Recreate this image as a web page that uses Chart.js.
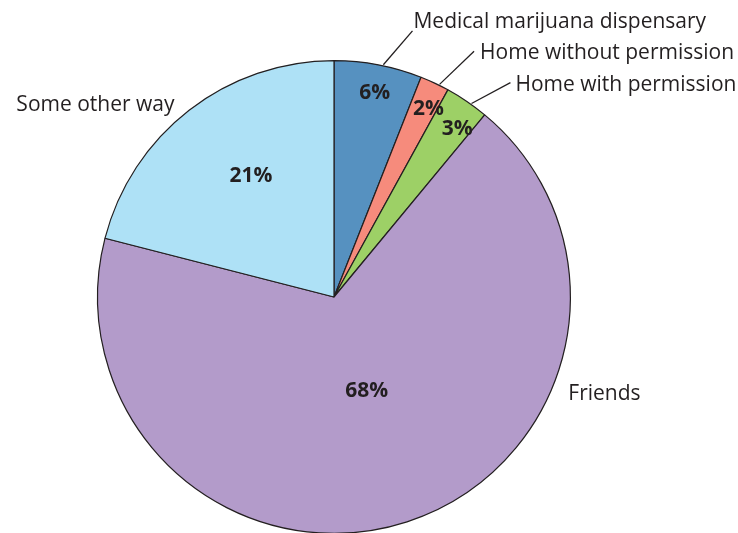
<!DOCTYPE html>
<html>
<head>
<meta charset="utf-8">
<script src="https://cdn.jsdelivr.net/npm/chart.js@4.4.1/dist/chart.umd.min.js"></script>
<style>
  html, body { margin: 0; padding: 0; background: #fff; overflow: hidden; }
  #wrap { position: relative; width: 738px; height: 540px; }
</style>
</head>
<body>
<div id="wrap"><canvas id="pie"></canvas></div>
<script>
const sources = [
  "Medical marijuana dispensary",
  "Home without permission",
  "Home with permission",
  "Friends",
  "Some other way"
];
const shares = [6, 2, 3, 68, 21];
const sliceColors = ["#5691c0", "#f68b7c", "#9dd066", "#b39bca", "#aee1f6"];

// where each slice's text sits: pct at a fraction of the radius,
// name offset from the outer edge at the slice middle
const pctRadius = [0.88, 0.89, 0.88, 0.42, 0.62];
const pctTurn = [0.5, 1.5, 2.1, -1.3, 3.3]; // degrees nudged clockwise
const nameOffsets = [
  { dx: 34, dy: -33, align: "left", leader: true, gap: 1, ty: -3 },
  { dx: 39, dy: -31, align: "left", leader: true, gap: 6, ty: 8 },
  { dx: 43, dy: -18, align: "left", leader: true, gap: 5, ty: 8 },
  { dx: 161, dy: -123, align: "left", leader: false, gap: 0, ty: 0 },
  { dx: -14, dy: 2, align: "right", leader: false, gap: 0, ty: 0 }
];

const textColor = "#231f20";
const fontFamily = "'Open Sans', 'Noto Sans', sans-serif";

const sliceLabels = {
  id: "sliceLabels",
  afterDraw(chart) {
    const ctx = chart.ctx;
    const arcs = chart.getDatasetMeta(0).data;
    ctx.save();
    arcs.forEach((arc, i) => {
      const { x, y, startAngle, endAngle, outerRadius } = arc.getProps(
        ["x", "y", "startAngle", "endAngle", "outerRadius"], true);
      const mid = (startAngle + endAngle) / 2;

      // percentage inside the slice
      const a = mid + pctTurn[i] * Math.PI / 180;
      const pr = outerRadius * pctRadius[i];
      ctx.font = "bold 21px " + fontFamily;
      ctx.fillStyle = textColor;
      ctx.textAlign = "center";
      ctx.textBaseline = "middle";
      ctx.fillText(shares[i] + "%", x + Math.cos(a) * pr, y + Math.sin(a) * pr);

      // source name outside, with a leader for the thin slices
      const o = nameOffsets[i];
      const ex = x + Math.cos(mid) * (outerRadius + 1);
      const ey = y + Math.sin(mid) * (outerRadius + 1);
      const tx = ex + o.dx, ty = ey + o.dy;
      if (o.leader) {
        const la = mid + 1.2 * Math.PI / 180;
        ctx.beginPath();
        ctx.moveTo(x + Math.cos(la) * (outerRadius + 1), y + Math.sin(la) * (outerRadius + 1));
        ctx.lineTo(tx, ty);
        ctx.strokeStyle = textColor;
        ctx.lineWidth = 1.3;
        ctx.stroke();
      }
      ctx.font = "21px " + fontFamily;
      ctx.textAlign = o.align;
      ctx.textBaseline = "alphabetic";
      ctx.fillText(sources[i], tx + (o.align === "left" ? o.gap : -o.gap), ty + o.ty);
    });
    ctx.restore();
  }
};

new Chart(document.getElementById("pie"), {
  type: "pie",
  data: {
    labels: sources,
    datasets: [{
      data: shares,
      backgroundColor: sliceColors,
      borderColor: textColor,
      borderWidth: 1.2
    }]
  },
  options: {
    responsive: true,
    maintainAspectRatio: false,
    animation: false,
    events: [],
    layout: { padding: { left: 97, right: 167, top: 60, bottom: 6 } },
    plugins: {
      legend: { display: false },
      tooltip: { enabled: false }
    }
  },
  plugins: [sliceLabels]
});
</script>
</body>
</html>
